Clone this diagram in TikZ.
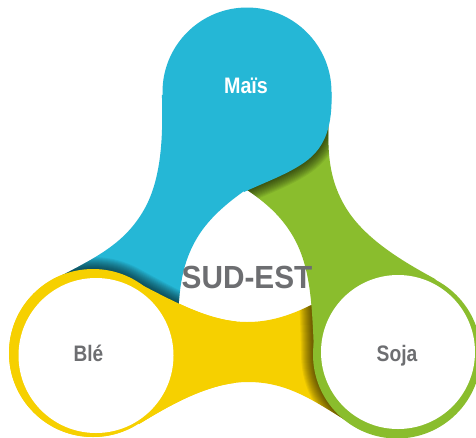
\documentclass[tikz,border=0pt]{standalone}
\usepackage{fontspec}
\setmainfont{Liberation Sans}
\usepackage{graphicx}
\definecolor{maisblue}{RGB}{37,183,214}
\definecolor{sojagreen}{RGB}{138,189,45}
\definecolor{bleyellow}{RGB}{246,208,0}
\definecolor{txtgray}{RGB}{109,110,113}
\newcommand{\bandpath}{(134,281) .. controls (175,302) and (210,322) .. (247,322) .. controls (280,322) and (305,309) .. (340,290) -- (400,335) -- (390,425) -- (345,420) .. controls (310,398) and (285,382) .. (248,382) .. controls (210,382) and (170,405) .. (139,424) -- (100,353) -- cycle}
\newcommand{\castpath}{(14.07,324.27) arc[start angle=200,end angle=300,radius=84] .. controls (175,302) and (210,322) .. (247,322)}
\newcommand{\lobecast}{(331.5,70) -- (331.5,92) .. controls (332.5,125) and (326,147) .. (305,162) .. controls (288,174) and (268,181) .. (244,192) -- (236,197)}
\tikzset{
  shadowline/.style={black,opacity=0.06},
  lbl/.style={anchor=base, inner sep=0pt, font=\bfseries\fontsize{16.8}{18}\selectfont, text=txtgray}
}
\begin{document}
\begin{tikzpicture}[x=0.75pt,y=-0.75pt]
\useasboundingbox (0,0) rectangle (476,437);
\fill[white] (0,0) rectangle (476,437);
\coordinate (C) at (245.5,266);
% yellow (Ble) shape
\fill[bleyellow] \bandpath;
\fill[bleyellow] (93,353) circle[radius=84];
% shadow of green on yellow
\begin{scope}
\clip \bandpath;
\foreach \w in {2,4,...,24} \draw[shadowline, line width=\w*0.75pt, rotate around={120:(C)}] \castpath;
\end{scope}
% green (Soja) shape
\fill[sojagreen, rotate around={120:(C)}] \bandpath;
\fill[sojagreen] (397,354.5) circle[radius=84];
% shadow of blue on green
\begin{scope}
\clip[rotate around={120:(C)}] \bandpath;
\foreach \w in {2,4,...,24} \draw[shadowline, line width=\w*0.75pt] \lobecast;
\end{scope}
% blue (Mais) shape
\fill[maisblue, rotate around={-120:(C)}] \bandpath;
\fill[maisblue] (247,92) circle[radius=84.5];
\fill[maisblue] (331.5,92) .. controls (332.5,125) and (326,147) .. (305,162) .. controls (288,174) and (268,181) .. (244,192) -- (230,160) -- (247,92) -- cycle;
% shadow of yellow on blue
\begin{scope}
\clip[rotate around={-120:(C)}] \bandpath;
\foreach \w in {2,4,...,24} \draw[shadowline, line width=\w*0.75pt] \castpath;
\end{scope}
% yellow again over blue
\begin{scope}
\clip (0,240) rectangle (236,437);
\fill[bleyellow] \bandpath;
\fill[bleyellow] (93,353) circle[radius=84];
\end{scope}
% white discs
\fill[white] (96,355.5) circle[radius=77.5];
\fill[white] (398,352) circle[radius=77];
% labels
\node[lbl, text=white] (mais) at (246,93.3) {\scalebox{0.88}[1]{Maïs}};
\node[lbl] (ble) at (88.5,361.5) {\scalebox{0.85}[1]{Blé}};
\node[lbl] (soja) at (397,361.5) {\scalebox{0.86}[1]{Soja}};
\node[lbl, font=\bfseries\fontsize{24}{26}\selectfont] (sudest) at (247,288) {\scalebox{0.93}[1]{SUD-EST}};
\end{tikzpicture}
\end{document}
